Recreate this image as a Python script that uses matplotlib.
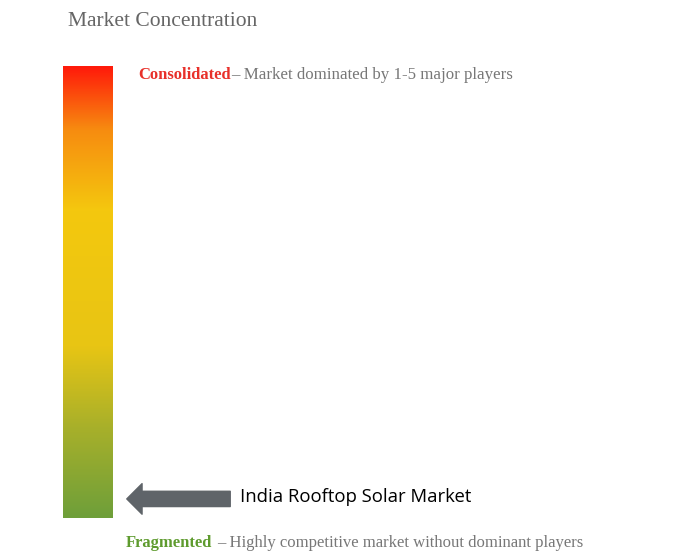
import numpy as np
import matplotlib.pyplot as plt
from matplotlib.colors import LinearSegmentedColormap

# data
title = "Market Concentration"
market_name = "India Rooftop Solar Market"
market_position = 0.04   # 0 = fragmented, 1 = consolidated
top_label = "Consolidated"
top_desc = "– Market dominated by 1-5 major players"
bottom_label = "Fragmented"
bottom_desc = "– Highly competitive market without dominant players"
stop_pos = [0.0, 0.2, 0.38, 0.68, 0.86, 1.0]
stop_colors = ["#6e9f3a", "#a8b02a", "#e8c514", "#f4c80e", "#f78c10", "#ff1a0a"]

fig = plt.figure(figsize=(6.75, 5.52), dpi=100)
ax = fig.add_axes([0, 0, 1, 1])

# gradient bar
bar_x0, bar_x1, bar_top, bar_bot = 63, 113, 66, 518
cmap = LinearSegmentedColormap.from_list("conc", list(zip(stop_pos, stop_colors)))
grad = np.linspace(1, 0, 256).reshape(-1, 1)
ax.imshow(grad, cmap=cmap, aspect='auto', extent=(bar_x0, bar_x1, bar_bot, bar_top), zorder=1)
ax.set_xlim(0, 675)
ax.set_ylim(552, 0)
ax.axis('off')

serif = "Liberation Serif"
ax.text(68, 22, title, fontsize=15.5, family=serif, color="#666666", va='center')
ax.text(138, 75, top_label, fontsize=12, family=serif, weight='bold', color="#e8302a", va='center')
ax.text(231, 75, top_desc, fontsize=12.2, family=serif, color="#777777", va='center')
ax.text(126, 543, bottom_label, fontsize=12, family=serif, weight='bold', color="#5e9b2e", va='center')
ax.text(217, 543, bottom_desc, fontsize=12, family=serif, color="#777777", va='center')

# marker arrow
y_mark = bar_bot - market_position * (bar_bot - bar_top) - 1
ax.annotate("", xy=(124, y_mark), xytext=(233, y_mark),
            arrowprops=dict(arrowstyle="simple,head_width=2.2,head_length=1.1,tail_width=1.1",
                            fc="#5f6469", ec="#5f6469"))
ax.text(240, y_mark - 2, market_name, fontsize=13.3, family="Open Sans", color="black", va='center')

fig.savefig("out.png", dpi=100)
